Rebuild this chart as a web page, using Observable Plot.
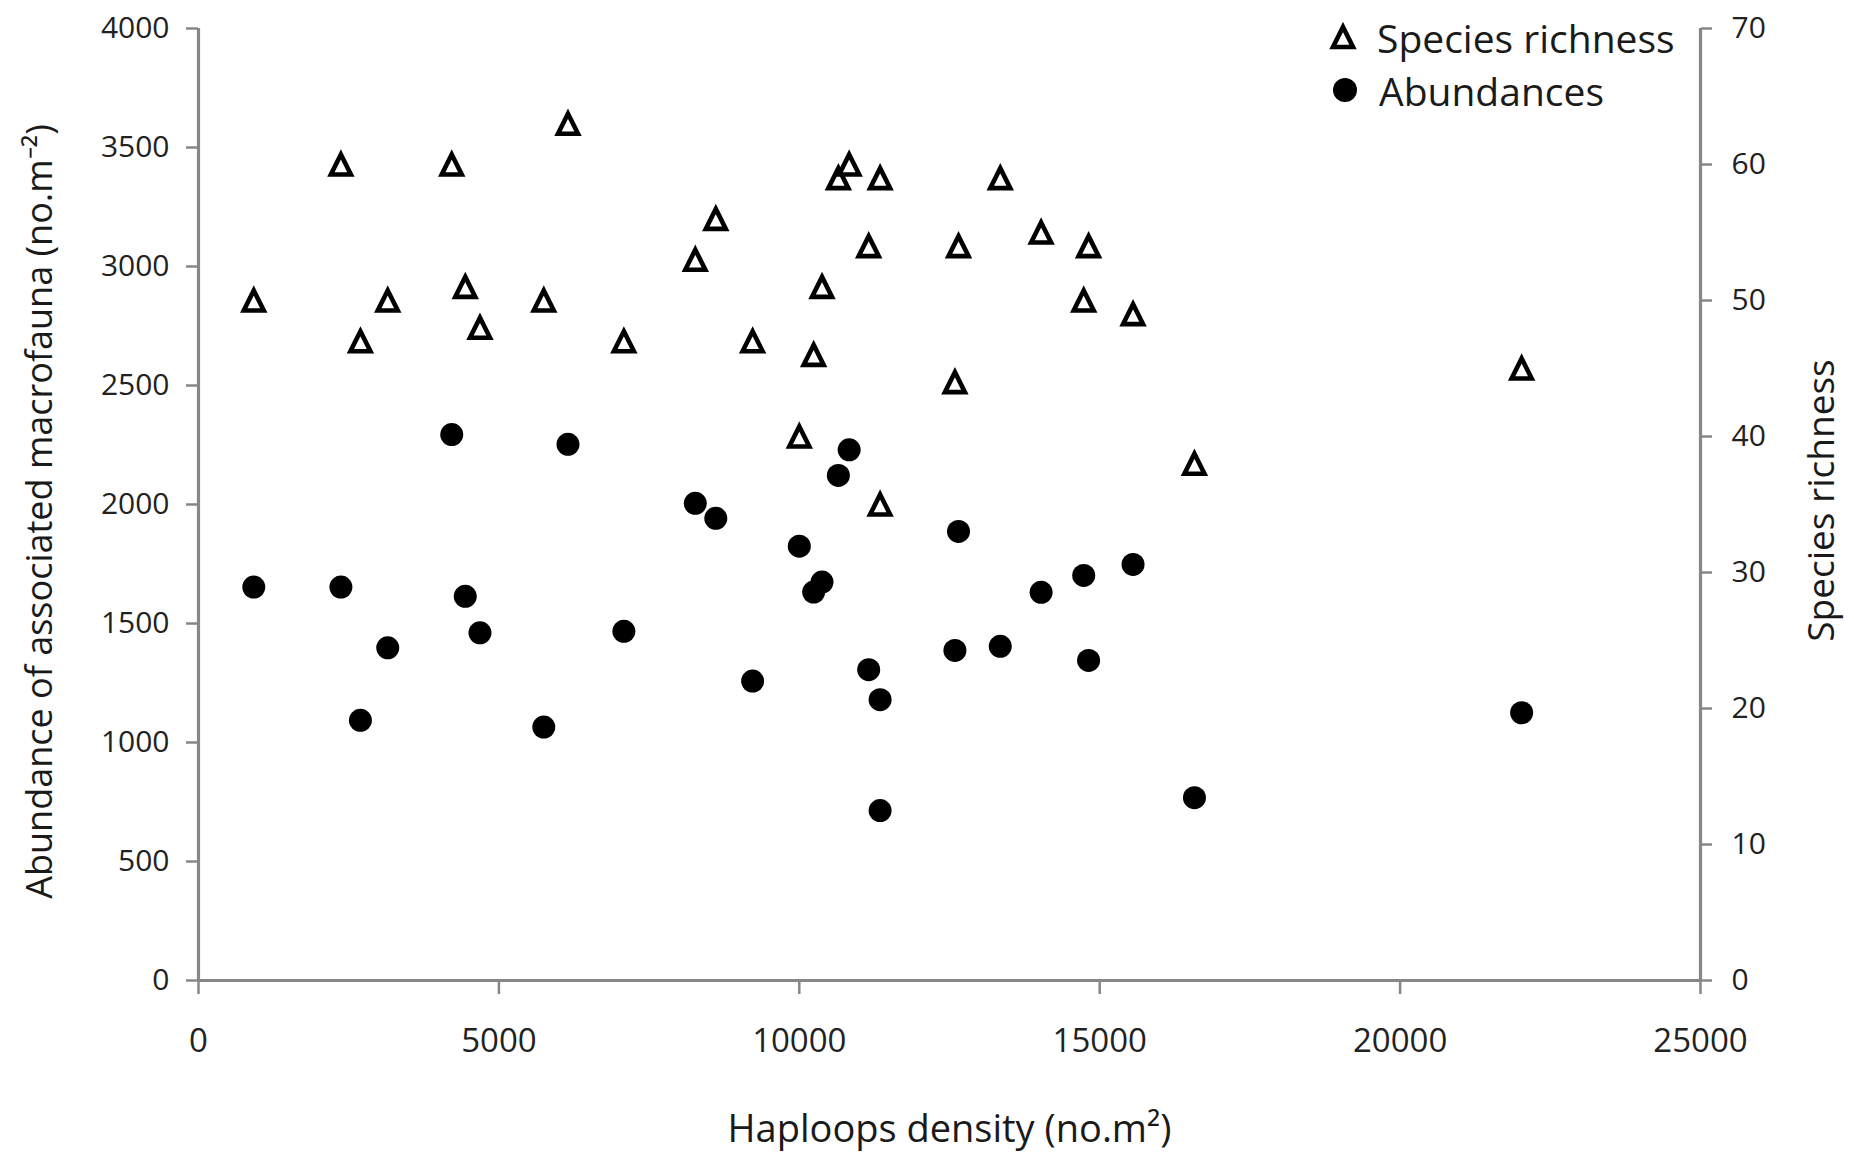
<!DOCTYPE html>
<html><head><meta charset="utf-8">
<script src="https://cdn.jsdelivr.net/npm/d3@7"></script>
<script src="https://cdn.jsdelivr.net/npm/@observablehq/plot@0.6"></script>
<style>
html,body{margin:0;padding:0;background:#fff;}
#wrap{position:relative;width:1854px;height:1159px;font-family:'Open Sans',sans-serif;}
.leg{position:absolute;display:flex;align-items:center;height:56px;font-size:39px;color:#1a1a1a;white-space:nowrap;line-height:1;}
.leg svg{margin-right:19px;flex:none;}
</style></head><body><div id="wrap"></div>
<script>
// Data
const haploopsDensity = [920, 2370, 2695, 3150, 4215, 4440, 4685, 5747, 6150, 7080, 8269, 8610, 9223, 10000, 10239, 10378, 10650, 10830, 11155, 11345, 11345, 12590, 12650, 13345, 14025, 14734, 14815, 15555, 16577, 22023];
const speciesRichness = [50, 60, 47, 50, 60, 51, 48, 50, 63, 47, 53, 56, 47, 40, 46, 51, 59, 60, 54, 59, 35, 44, 54, 59, 55, 50, 54, 49, 38, 45];
const abundance = [1653, 1653, 1093, 1398, 2294, 1614, 1461, 1065, 2253, 1467, 2005, 1942, 1258, 1825, 1632, 1674, 2122, 2230, 1306, 1180, 714, 1387, 1887, 1404, 1631, 1702, 1345, 1748, 768, 1125];
const xTicks = [0, 5000, 10000, 15000, 20000, 25000];
const leftTicks = [0, 500, 1000, 1500, 2000, 2500, 3000, 3500, 4000];
const rightTicks = [0, 10, 20, 30, 40, 50, 60, 70];
const seriesNames = ["Species richness", "Abundances"];
const xTitle = "Haploops density (no.m\u00B2)";
const yLeftTitle = "Abundance of associated macrofauna (no.m\u207B\u00B2)";
const yRightTitle = "Species richness";

const yMax = 4000, rMax = 70;
const toLeft = v => v * yMax / rMax;
const data = haploopsDensity.map((x, i) => ({x, richness: speciesRichness[i], abundance: abundance[i]}));

const triangle = {draw(ctx, size) {
  const r = Math.sqrt(size / Math.PI);
  ctx.moveTo(0, -r); ctx.lineTo(r, r); ctx.lineTo(-r, r); ctx.closePath();
}};
const axisGrey = "#878787";
const textCol = "#222";
const fmt = d3.format("d");

const chart = Plot.plot({
  width: 1854, height: 1159,
  marginLeft: 198, marginRight: 154, marginTop: 28, marginBottom: 179,
  style: {fontFamily: "'Open Sans', sans-serif", background: "#fff", color: textCol, overflow: "visible"},
  x: {domain: [0, 25000]},
  y: {domain: [0, 4000]},
  marks: [
    Plot.axisY(leftTicks, {anchor: "left", tickSize: 12, tickPadding: 17, stroke: axisGrey, strokeWidth: 2.5, fill: textCol, fontSize: 30, label: null, tickFormat: fmt}),
    Plot.axisY(rightTicks.map(toLeft), {anchor: "right", tickSize: 11, tickPadding: 20, stroke: axisGrey, strokeWidth: 2.5, fill: textCol, fontSize: 30, label: null, tickFormat: d => fmt(Math.round(d * rMax / yMax))}),
    Plot.axisX(xTicks, {anchor: "bottom", tickSize: 14, tickPadding: 34, stroke: axisGrey, strokeWidth: 2.5, fill: textCol, fontSize: 33, label: null, tickFormat: fmt}),
    Plot.ruleX([0, 25000], {stroke: axisGrey, strokeWidth: 3.2}),
    Plot.ruleY([0], {stroke: axisGrey, strokeWidth: 3.2}),
    Plot.dot(data, {x: "x", y: d => toLeft(d.richness), r: 10, symbol: triangle, fill: "white", stroke: "black", strokeWidth: 4.6}),
    Plot.dot(data, {x: "x", y: "abundance", r: 11.5, fill: "black", stroke: "none"}),
    Plot.text([yLeftTitle], {text: d => d, frameAnchor: "left", textAnchor: "middle", rotate: -90, dx: -158, dy: 7, fontSize: 36, fill: "#1a1a1a"}),
    Plot.text([yRightTitle], {text: d => d, frameAnchor: "right", textAnchor: "middle", rotate: -90, dx: 122, dy: -4, fontSize: 37, fill: "#1a1a1a"}),
    Plot.text([xTitle], {text: d => d, frameAnchor: "bottom", textAnchor: "middle", dy: 161, fontSize: 38, fill: "#1a1a1a"})
  ]
});
const wrap = document.getElementById("wrap");
wrap.appendChild(chart);

// Legend (overlaid in the top-right of the plot area)
const legendRows = [
  {name: seriesNames[0], top: 9, left: 1328, shape: `<polygon points="15,5 25,25 5,25" fill="white" stroke="black" stroke-width="4.6"/>`},
  {name: seriesNames[1], top: 62, left: 1330, shape: `<circle cx="15" cy="15" r="12" fill="black"/>`}
];
legendRows.forEach(row => {
  const div = document.createElement("div");
  div.className = "leg";
  div.style.top = row.top + "px";
  div.style.left = row.left + "px";
  div.innerHTML = `<svg width="30" height="30" viewBox="0 0 30 30">${row.shape}</svg><span>${row.name}</span>`;
  wrap.appendChild(div);
});
</script>
</body></html>
